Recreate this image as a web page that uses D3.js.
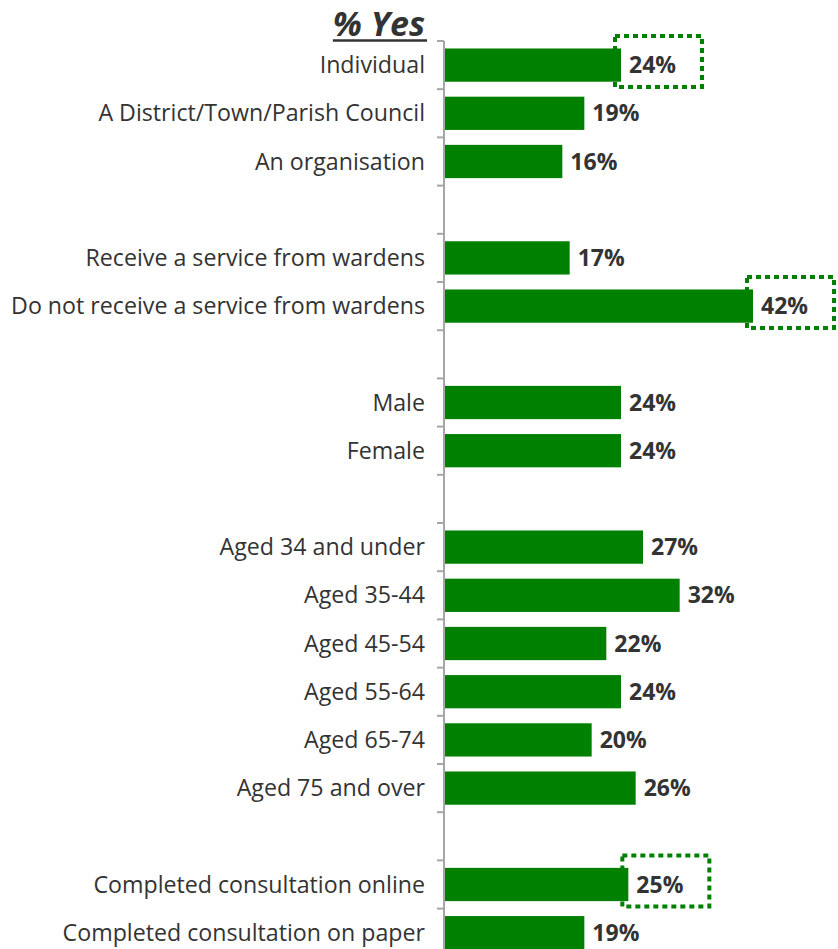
<!DOCTYPE html>
<html>
<head>
<meta charset="utf-8">
<script src="https://cdn.jsdelivr.net/npm/d3@7"></script>
<style>
  body { margin: 0; background: #fff; }
  svg text { font-family: "Open Sans", sans-serif; }
</style>
</head>
<body>
<svg id="chart" width="838" height="949"></svg>
<script>
// rows in order; blank rows are spacers between groups
var categories = [
  'Individual', 'A District/Town/Parish Council', 'An organisation', '',
  'Receive a service from wardens', 'Do not receive a service from wardens', '',
  'Male', 'Female', '',
  'Aged 34 and under', 'Aged 35-44', 'Aged 45-54', 'Aged 55-64', 'Aged 65-74', 'Aged 75 and over', '',
  'Completed consultation online', 'Completed consultation on paper'
];
var values = [24, 19, 16, null, 17, 42, null, 24, 24, null, 27, 32, 22, 24, 20, 26, null, 25, 19];
var highlighted = ['Individual', 'Do not receive a service from wardens', 'Completed consultation online'];

var svg = d3.select('#chart');
var green = '#008000';

var rows = categories.map(function(c, i) {
    return { key: 'r' + i, name: c, value: values[i] };
});

var x = d3.scaleLinear().domain([0, 42]).range([445, 753]);
var y = d3.scaleBand()
    .domain(rows.map(function(d) { return d.key; }))
    .range([41, 41 + 48.2 * rows.length])
    .paddingInner(0.31)
    .paddingOuter(0.155);

// axis line and boundary ticks
var step = y.step();
var y0 = y.range()[0];
svg.append('line')
    .attr('x1', 444).attr('x2', 444)
    .attr('y1', y0).attr('y2', 949)
    .attr('stroke', '#a6a6a6').attr('stroke-width', 2);

var bounds = d3.range(rows.length + 1).map(function(i) { return y0 + i * step; });
svg.selectAll('.tick-b').data(bounds).enter().append('line')
    .attr('class', 'tick-b')
    .attr('x1', 437).attr('x2', 444)
    .attr('y1', function(d) { return d; })
    .attr('y2', function(d) { return d; })
    .attr('stroke', '#a6a6a6').attr('stroke-width', 2);

var data = rows.filter(function(d) { return d.value !== null; });

// category labels
svg.selectAll('.cat').data(data).enter().append('text')
    .attr('class', 'cat')
    .attr('x', 425)
    .attr('y', function(d) { return y(d.key) + y.bandwidth() / 2; })
    .attr('dy', '0.35em')
    .attr('text-anchor', 'end')
    .attr('font-size', 23.2)
    .attr('fill', '#333')
    .text(function(d) { return d.name; });

// bars
svg.selectAll('.bar').data(data).enter().append('rect')
    .attr('class', 'bar')
    .attr('x', x(0))
    .attr('y', function(d) { return y(d.key); })
    .attr('width', function(d) { return x(d.value) - x(0); })
    .attr('height', y.bandwidth())
    .attr('fill', green);

// dotted boxes around highlighted values
var hl = data.filter(function(d) { return highlighted.indexOf(d.name) >= 0; });
svg.selectAll('.box').data(hl).enter().append('rect')
    .attr('class', 'box')
    .attr('x', function(d) { return x(d.value) - 6; })
    .attr('y', function(d) { return y(d.key) + y.bandwidth() / 2 - 29; })
    .attr('width', 87)
    .attr('height', 51)
    .attr('fill', 'none')
    .attr('stroke', green)
    .attr('stroke-width', 4)
    .attr('stroke-dasharray', '5,4');

// value labels
svg.selectAll('.val').data(data).enter().append('text')
    .attr('class', 'val')
    .attr('x', function(d) { return x(d.value) + 8; })
    .attr('y', function(d) { return y(d.key) + y.bandwidth() / 2; })
    .attr('dy', '0.35em')
    .attr('font-size', 23)
    .attr('font-weight', 'bold')
    .attr('fill', '#333')
    .text(function(d) { return d.value + '%'; });

// title
var title = svg.append('text')
    .attr('x', 425).attr('y', 36)
    .attr('text-anchor', 'end')
    .attr('font-size', 34)
    .attr('font-weight', 'bold')
    .attr('font-style', 'italic')
    .attr('fill', '#333')
    .text('% Yes');
var tb = title.node().getBBox();
svg.append('line')
    .attr('x1', tb.x).attr('x2', 427)
    .attr('y1', 40.5).attr('y2', 40.5)
    .attr('stroke', '#333').attr('stroke-width', 2.5);
</script>
</body>
</html>
